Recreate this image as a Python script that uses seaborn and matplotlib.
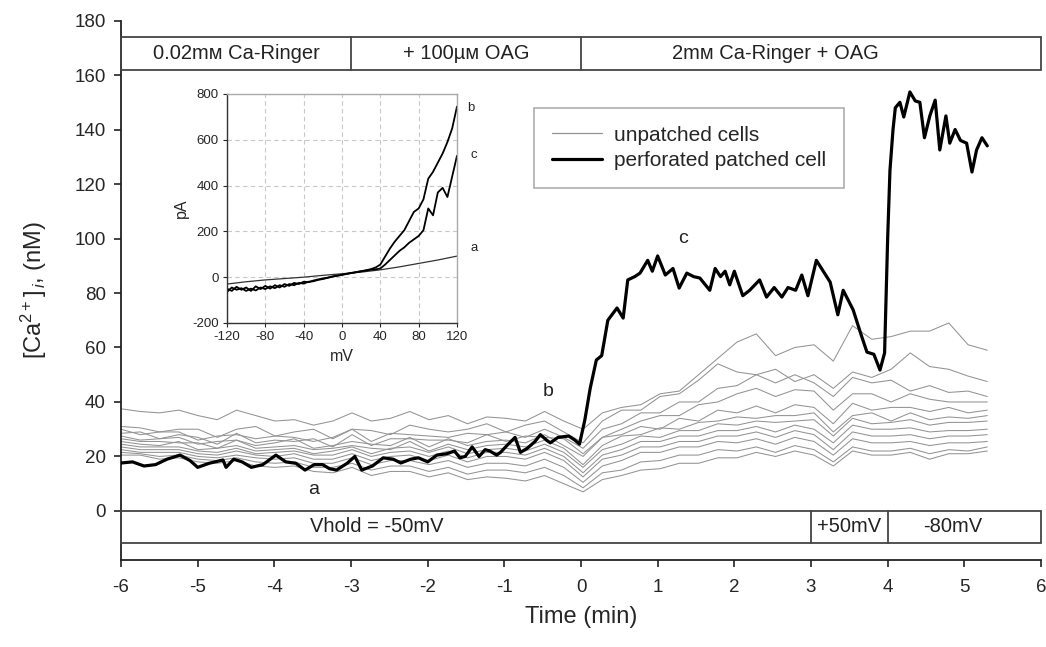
import numpy as np
import pandas as pd
import matplotlib
matplotlib.use("Agg")
import matplotlib.pyplot as plt
import seaborn as sns
from matplotlib.lines import Line2D
from matplotlib.patches import Rectangle

sns.set_theme(style="ticks")
plt.rcParams['font.family'] = ['Liberation Sans', 'DejaVu Sans']
plt.rcParams['mathtext.fontset'] = 'custom'
plt.rcParams['mathtext.rm'] = 'Liberation Sans'
plt.rcParams['mathtext.it'] = 'Liberation Sans:italic'
plt.rcParams['axes.unicode_minus'] = False

# ---------------- data ----------------
# perforated patched cell
black_time = [-6.00, -5.85, -5.70, -5.55, -5.40, -5.23, -5.10, -5.00, -4.85, -4.67, -4.63, -4.53,
              -4.42, -4.30, -4.15, -3.98, -3.85, -3.72, -3.60, -3.48, -3.37, -3.28, -3.19, -3.05,
              -2.95, -2.86, -2.72, -2.58, -2.45, -2.35, -2.22, -2.12, -2.00, -1.88, -1.75, -1.65,
              -1.58, -1.51, -1.42, -1.33, -1.25, -1.19, -1.10, -1.05, -0.95, -0.86, -0.79, -0.70,
              -0.60, -0.53, -0.45, -0.40, -0.30, -0.16, -0.08, -0.02,
              0.05, 0.12, 0.20, 0.27, 0.35, 0.47, 0.55, 0.61, 0.70, 0.77, 0.87, 0.93, 1.00, 1.10,
              1.20, 1.28, 1.38, 1.47, 1.55, 1.68, 1.75, 1.82, 1.88, 1.94, 2.00, 2.11, 2.20, 2.33,
              2.42, 2.52, 2.62, 2.70, 2.80, 2.88, 2.96, 3.07, 3.16, 3.25, 3.35, 3.42, 3.55, 3.65,
              3.73, 3.82, 3.90, 3.96, 4.00, 4.03, 4.07, 4.10, 4.16, 4.21, 4.29, 4.36, 4.42, 4.48,
              4.55, 4.62, 4.68, 4.76, 4.81, 4.88, 4.95, 5.03, 5.10, 5.16, 5.23, 5.30]
black_ca = [17.6, 18.0, 16.5, 17.0, 19.0, 20.5, 18.5, 16.0, 17.5, 18.7, 16.0, 19.0,
            18.0, 16.0, 17.0, 20.5, 18.0, 17.5, 15.0, 17.0, 17.0, 15.5, 15.0, 17.5,
            20.0, 15.0, 16.5, 19.5, 19.0, 17.6, 19.0, 19.5, 18.0, 20.5, 21.0, 22.0,
            19.5, 20.0, 23.5, 20.0, 22.5, 22.0, 20.5, 21.5, 24.5, 27.0, 21.5, 23.0,
            25.5, 28.0, 26.0, 25.0, 27.0, 27.5, 26.0, 24.5,
            33.4, 45.0, 55.4, 57.0, 70.0, 74.5, 70.8, 84.8, 86.0, 87.3, 92.0, 88.0, 93.6, 86.6,
            89.0, 81.8, 87.3, 86.0, 85.5, 81.0, 89.0, 86.0, 88.0, 83.0, 88.0, 79.0, 81.0, 84.8,
            78.5, 82.0, 78.5, 82.0, 81.0, 86.6, 79.0, 92.0, 88.0, 84.0, 72.0, 81.0, 73.8, 65.0,
            58.3, 57.5, 51.7, 58.0, 100.0, 125.0, 140.0, 148.0, 150.0, 144.6, 153.8, 150.5, 150.0, 137.0,
            145.0, 150.8, 132.5, 145.0, 135.0, 140.0, 136.0, 135.0, 124.4, 132.5, 137.0, 134.0]

# unpatched cells (sampled on a common time grid)
gray_time = np.linspace(-6.0, 5.3, 46)
cell_01 = [37.5, 36.5, 36, 37, 35, 33.5, 37, 35, 33, 33.5, 31.5, 33, 36, 33, 34, 36.5, 33.5, 35, 32, 34.5, 34, 33, 36.5, 33,
           30, 36, 38, 39, 43, 44, 50, 56, 62, 65, 57, 60, 61, 55, 68, 63, 64, 66, 66, 69, 61, 59]
cell_02 = [31, 30.5, 29, 30, 30, 27, 30, 31, 27.5, 29, 30, 26.5, 30, 29.5, 28, 31.5, 30, 29, 30, 32, 29, 31.5, 33, 29,
           25, 33, 37, 37, 42, 43, 48, 54, 51, 50, 52, 47.5, 50, 45, 51, 49, 52, 58, 53, 52, 49.5, 47.5]
cell_03 = [30, 28, 29, 29, 26, 27.5, 28, 26.5, 27.5, 27, 25.5, 27, 30, 25.5, 28.5, 28, 27.5, 27, 28.5, 28, 29, 27, 30, 27,
           23, 30, 32, 36, 36, 40, 40, 45, 46, 50, 47, 50, 47, 42, 49, 47, 48, 44, 46, 43.5, 44, 42]
cell_04 = [28.5, 29, 26.5, 28, 27, 24.5, 28.5, 25, 26, 25.5, 26.5, 23.5, 28, 24, 26.5, 26.5, 26, 26, 25, 28, 25.5, 27.5, 27, 26.5,
           21, 27, 30, 33, 35, 35, 39, 40, 43, 45, 42, 44.5, 44, 37, 43, 43, 40, 43, 41, 40, 40, 40]
cell_05 = [27.5, 26, 26.5, 27, 24.5, 25.5, 26, 24, 25, 26.5, 23, 24, 25.5, 24.5, 24, 27, 23.5, 26.5, 24, 25.5, 26, 25, 28, 24,
           20, 27, 28, 31, 30, 34, 33, 37, 36, 38.5, 36, 39, 38, 32, 39.5, 37, 38, 38, 36.5, 38, 36, 37]
cell_06 = [26.5, 25.5, 25.5, 25, 25, 23, 26, 23, 23.5, 24, 22.5, 23, 24, 23, 22.5, 25.5, 22, 24.5, 22.5, 24, 24.5, 23.5, 26, 23,
           17, 24, 27.5, 28, 30.5, 30, 32.5, 33, 34.5, 34, 35, 35, 36, 29, 35, 36, 33, 36, 33.5, 34.5, 34, 35]
cell_07 = [25.5, 24.5, 24, 25.5, 22.5, 23, 24, 22, 22.5, 23, 21, 22, 23.5, 21, 23, 23.5, 21.5, 23.5, 21, 22.5, 23, 22, 24.5, 21.5,
           16, 22.5, 24.5, 27.5, 27, 29.5, 29.5, 32, 31.5, 33, 32.5, 33, 33.5, 27.5, 34, 32, 32.5, 33.5, 31.5, 32.5, 32.5, 33]
cell_08 = [24.5, 23.5, 23.5, 23.5, 22, 21.5, 23, 21, 21.5, 22, 20.5, 20.5, 22.5, 20, 21.5, 22, 20, 22, 19.5, 21.5, 21.5, 20.5, 23, 20,
           14, 20.5, 22.5, 25.5, 25.5, 27.5, 27.5, 29.5, 29.5, 31, 29, 31.5, 30, 25, 31.5, 30, 30, 30.5, 29, 29.5, 29.5, 30]
cell_09 = [23.5, 22.5, 22.5, 22.5, 21, 20.5, 22, 20.5, 20, 21, 19, 19, 21, 18.5, 20, 20.5, 18.5, 20.5, 18, 20, 20, 19, 21.5, 18.5,
           12.5, 19, 20.5, 23.5, 23.5, 25.5, 25.5, 27.5, 27.5, 29, 27, 29.5, 28, 22.5, 29, 27.5, 27.5, 28, 26.5, 27.5, 27.5, 28]
cell_10 = [22.5, 21.5, 21.5, 21.5, 20, 19.5, 20.5, 19.5, 19, 19.5, 17.5, 17.5, 19.5, 17, 18.5, 18.5, 17, 18.5, 16, 17.5, 17.5, 16.5, 19, 16,
           10.5, 16.5, 18.5, 21.5, 21.5, 23.5, 23.5, 25.5, 25, 26.5, 24.5, 27, 25.5, 20.5, 26.5, 25, 25, 25.5, 24, 25, 25, 25.5]
cell_11 = [21.5, 21, 20, 20.5, 19, 18.5, 19.5, 18, 17.5, 18, 16, 16, 17.5, 15, 16.5, 16.5, 14.5, 16, 13.5, 15, 15, 14, 16, 13,
           8.5, 14, 15, 18, 18.5, 20.5, 20.5, 22.5, 22, 23.5, 21.5, 24, 22.5, 18, 23.5, 22, 22, 23, 21, 22.5, 22, 23.5]
cell_12 = [20.5, 20.5, 19, 19.5, 18, 17.5, 18.5, 16.5, 16, 16.5, 14.5, 14, 16, 13, 14.5, 14.5, 12.5, 14, 11.5, 12.5, 12, 11, 13, 10,
           7, 11.5, 13, 15, 15.5, 17.5, 17.5, 19.5, 19.5, 21.5, 20, 22, 20.5, 16.5, 22, 20.5, 20.5, 21.5, 19, 21, 21, 22]
gray_cells = [cell_01, cell_02, cell_03, cell_04, cell_05, cell_06,
              cell_07, cell_08, cell_09, cell_10, cell_11, cell_12]

# solution / holding-potential protocol bars
solution_edges = [-6, -3, 0, 6]
solution_labels = ["0.02m\u1d0d Ca-Ringer", "+ 100\u00b5\u1d0d OAG", "2m\u1d0d Ca-Ringer + OAG"]
vhold_edges = [-6, 3, 4, 6]
vhold_labels = ["Vhold = -50mV", "+50mV", "-80mV"]

# inset I-V curves
iv_mv = [-120, -115, -110, -105, -100, -95, -90, -85, -80, -75, -70, -65, -60, -55, -50, -45, -40,
         -35, -30, -25, -20, -15, -10, -5, 0, 5, 10, 15, 20, 25, 30, 35, 40, 45, 50, 55, 60, 65,
         70, 75, 80, 85, 90, 95, 100, 105, 110, 115, 120]
iv_b = [-65, -45, -55, -48, -60, -50, -58, -45, -52, -40, -48, -35, -42, -30, -35, -25, -28,
        -20, -18, -12, -8, -3, 2, 6, 10, 14, 18, 22, 26, 30, 35, 42, 55, 90, 125, 155, 180, 205,
        245, 285, 300, 340, 430, 460, 500, 540, 590, 650, 745]
iv_c = [-50, -60, -42, -55, -45, -60, -40, -52, -38, -50, -35, -45, -30, -38, -25, -30, -20,
        -22, -15, -10, -6, -2, 3, 7, 11, 15, 19, 22, 26, 29, 32, 34, 38, 55, 75, 95, 115, 130,
        150, 165, 180, 205, 300, 270, 370, 390, 350, 440, 530]
iv_a_mv = [-120, -100, -80, -60, -40, -20, 0, 20, 40, 60, 80, 100, 120]
iv_a = [-30, -20, -12, -6, 0, 8, 15, 22, 32, 45, 60, 75, 92]

# ---------------- figure ----------------
fig = plt.figure(figsize=(10.46, 6.47), dpi=100)
ax = fig.add_axes([0.1157, 0.1345, 0.8795, 0.8337])

rows = []
for i, vals in enumerate(gray_cells):
    for t, v in zip(gray_time, vals):
        rows.append({"time": t, "ca": v, "cell": i})
gray_df = pd.DataFrame(rows)
sns.lineplot(data=gray_df, x="time", y="ca", units="cell", estimator=None,
             color="#939393", lw=0.75, ax=ax, legend=False)
black_df = pd.DataFrame({"time": black_time, "ca": black_ca})
sns.lineplot(data=black_df, x="time", y="ca", estimator=None, color="black",
             lw=2.3, ax=ax, legend=False, zorder=5)

ax.set_xlim(-6, 6)
ax.set_ylim(-18, 180)
ax.set_xticks(range(-6, 7))
ax.set_yticks(range(0, 181, 20))
for s in ["top", "right"]:
    ax.spines[s].set_visible(False)
for s in ["left", "bottom"]:
    ax.spines[s].set_linewidth(1.3)
    ax.spines[s].set_color("#222222")
ax.tick_params(axis="both", direction="out", length=5, width=1.2, labelsize=13.5, color="#222222")
ax.tick_params(axis="x", pad=9)
ax.tick_params(axis="y", pad=6)
ax.set_xlabel("Time (min)", fontsize=17)
ax.set_ylabel(r"[Ca$^{2+}$]$_{\,i}$, (nM)", fontsize=17)
ax.yaxis.set_label_coords(-0.078, 0.5)
ax.xaxis.set_label_coords(0.5, -0.085)

bar_col = "#444444"
def draw_bar(edges, labels, y0, y1, xpos):
    ax.add_patch(Rectangle((edges[0], y0), edges[-1] - edges[0], y1 - y0, fill=False,
                           ec=bar_col, lw=1.3, clip_on=False, zorder=6))
    for e in edges[1:-1]:
        ax.plot([e, e], [y0, y1], color=bar_col, lw=1.3, clip_on=False, zorder=6)
    for lab, xp in zip(labels, xpos):
        ax.text(xp, (y0 + y1) / 2, lab, ha="center", va="center", fontsize=14.5,
                color="#222222", zorder=7)

draw_bar(solution_edges, solution_labels, 162, 174, [-4.5, -1.5, 2.54])
draw_bar(vhold_edges, vhold_labels, -11.6, 0, [-2.66, 3.5, 4.85])

ax.text(-3.49, 8, "a", fontsize=14, ha="center", va="center", color="#222222")
ax.text(-0.43, 43.7, "b", fontsize=14, ha="center", va="center", color="#222222")
ax.text(1.33, 100, "c", fontsize=14, ha="center", va="center", color="#222222")

handles = [Line2D([], [], color="#939393", lw=0.9),
           Line2D([], [], color="black", lw=2.3)]
leg = ax.legend(handles, ["unpatched cells", "perforated patched cell"],
                loc="upper left", bbox_to_anchor=(0.449, 0.838), fontsize=15,
                frameon=True, fancybox=False, handlelength=2.4, handletextpad=0.6,
                labelspacing=0.3, borderpad=0.85, borderaxespad=0)
leg.get_frame().set_edgecolor("#999999")
leg.get_frame().set_linewidth(1.2)

# ---------------- inset ----------------
ins = fig.add_axes([0.217, 0.5008, 0.2199, 0.354])
ins.set_facecolor("white")
sns.lineplot(x=iv_a_mv, y=iv_a, color="#333333", lw=0.9, ax=ins, estimator=None)
sns.lineplot(x=iv_mv, y=iv_b, color="black", lw=1.3, ax=ins, estimator=None)
sns.lineplot(x=iv_mv, y=iv_c, color="black", lw=1.3, ax=ins, estimator=None)
ins.set_xlim(-120, 120)
ins.set_ylim(-200, 800)
ins.set_xticks(range(-120, 121, 40))
ins.set_yticks(range(-200, 801, 200))
ins.grid(True, linestyle=(0, (4, 3)), color="#c8c8c8", lw=0.8)
for s in ["left", "bottom"]:
    ins.spines[s].set_color("#333333")
    ins.spines[s].set_linewidth(1.0)
for s in ["top", "right"]:
    ins.spines[s].set_color("#aaaaaa")
    ins.spines[s].set_linewidth(1.0)
ins.tick_params(direction="out", length=3, width=0.8, labelsize=9.5, pad=3)
ins.set_xlabel("mV", fontsize=11.5, labelpad=4)
ins.set_ylabel("pA", fontsize=11.5, labelpad=2)
ins.text(131, 739, "b", fontsize=9.5, ha="left", va="center", clip_on=False)
ins.text(134, 534, "c", fontsize=9.5, ha="left", va="center", clip_on=False)
ins.text(134, 127, "a", fontsize=9.5, ha="left", va="center", clip_on=False)

fig.savefig("out.png", dpi=100)
